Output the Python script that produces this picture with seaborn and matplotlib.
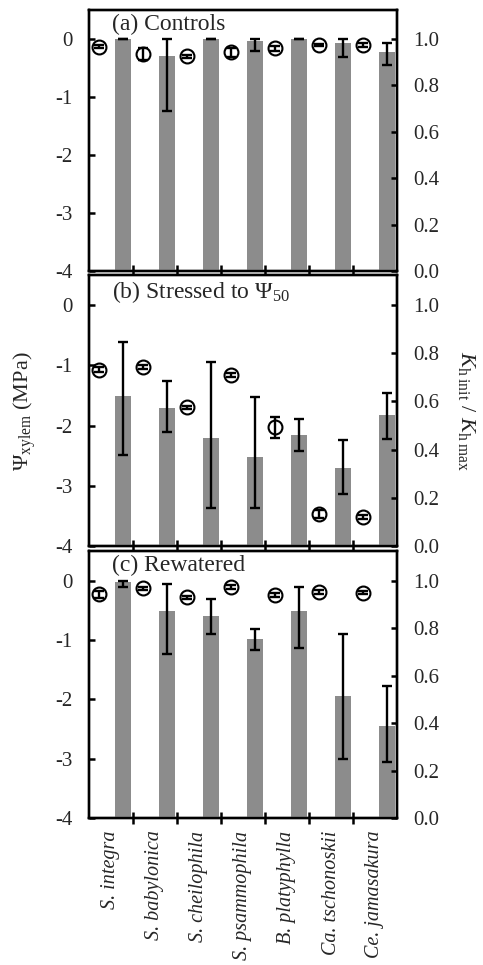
import numpy as np
import pandas as pd
import matplotlib
matplotlib.use("Agg")
import matplotlib.pyplot as plt
import seaborn as sns
from matplotlib.ticker import FixedLocator, NullFormatter, FixedFormatter

species = ["S. integra", "S. babylonica", "S. cheilophila", "S. psammophila",
           "B. platyphylla", "Ca. tschonoskii", "Ce. jamasakura"]
panel_titles = ["(a) Controls", "(b) Stressed to Ψ$_{50}$", "(c) Rewatered"]

# ---- (a) Controls ----
psi_a = [-0.13, -0.26, -0.30, -0.23, -0.16, -0.10, -0.10]
psi_err_a = [0.03, 0.10, 0.03, 0.08, 0.04, 0.02, 0.03]
kh_a = [1.0, 0.928, 1.0, 0.993, 1.0, 0.981, 0.943]
kh_lo_a = [1.0, 0.69, 1.0, 0.95, 1.0, 0.924, 0.888]
kh_hi_a = [1.0, 1.0, 1.0, 1.0, 1.0, 1.0, 0.981]

# ---- (b) Stressed to Psi50 ----
psi_b = [-1.07, -1.03, -1.70, -1.16, -2.03, -3.47, -3.52]
psi_err_b = [0.04, 0.03, 0.03, 0.03, 0.17, 0.06, 0.03]
kh_b = [0.622, 0.573, 0.448, 0.368, 0.462, 0.324, 0.543]
kh_lo_b = [0.378, 0.473, 0.159, 0.159, 0.396, 0.217, 0.445]
kh_hi_b = [0.845, 0.683, 0.762, 0.617, 0.529, 0.441, 0.634]

# ---- (c) Rewatered ----
psi_c = [-0.23, -0.13, -0.28, -0.11, -0.24, -0.19, -0.20]
psi_err_c = [0.06, 0.03, 0.03, 0.03, 0.03, 0.03, 0.03]
kh_c = [0.995, 0.873, 0.852, 0.753, 0.873, 0.516, 0.388]
kh_lo_c = [0.975, 0.692, 0.774, 0.706, 0.718, 0.247, 0.236]
kh_hi_c = [1.0, 0.986, 0.922, 0.795, 0.972, 0.774, 0.558]

panels = [
    (psi_a, psi_err_a, kh_a, kh_lo_a, kh_hi_a),
    (psi_b, psi_err_b, kh_b, kh_lo_b, kh_hi_b),
    (psi_c, psi_err_c, kh_c, kh_lo_c, kh_hi_c),
]

sns.set_style("ticks")
plt.rcParams["font.family"] = ["Liberation Serif", "DejaVu Serif"]
plt.rcParams["mathtext.fontset"] = "custom"
plt.rcParams["mathtext.rm"] = "Liberation Serif"
plt.rcParams["mathtext.it"] = "Liberation Serif:italic"
plt.rcParams["axes.unicode_minus"] = False
plt.rcParams["axes.axisbelow"] = False

W, H = 483, 965
fig = plt.figure(figsize=(W / 100, H / 100), dpi=100)
left_px, right_px = 89, 397
boxes = [(10, 271), (275, 546), (551, 818)]
gray = "#8c8c8c"
n = len(species)
idx = np.arange(n)

for p, ((psi, psi_err, kh, kh_lo, kh_hi), (top, bot)) in enumerate(zip(panels, boxes)):
    ax = fig.add_axes([left_px / W, 1 - bot / H, (right_px - left_px) / W, (bot - top) / H])
    ax2 = ax.twinx()
    df = pd.DataFrame({"cpos": idx - 0.28, "bpos": idx + 0.27, "psi": psi,
                       "psi_err": psi_err, "kh": kh, "lo": kh_lo, "hi": kh_hi})
    # bars (right axis)
    sns.barplot(data=df, x="bpos", y="kh", native_scale=True, width=0.36,
                color=gray, saturation=1, errorbar=None, linewidth=0, ax=ax2)
    kh_arr = np.array(kh)
    yerr = np.vstack([kh_arr - np.array(kh_lo), np.array(kh_hi) - kh_arr])
    ax2.errorbar(df["bpos"], kh_arr, yerr=yerr, fmt="none", ecolor="black",
                 elinewidth=1.7, capsize=3.8, capthick=1.7, zorder=5)
    # circles (left axis)
    sns.scatterplot(data=df, x="cpos", y="psi", s=100, facecolor="white",
                    edgecolor="black", linewidth=1.5, ax=ax, zorder=3)
    ax.errorbar(df["cpos"], df["psi"], yerr=df["psi_err"], fmt="none",
                ecolor="black", elinewidth=1.7, capsize=3.6, capthick=1.7, zorder=4)

    ax.set_xlim(-0.5, n - 0.5)
    ax.set_ylim(-4, 0.5)
    ax2.set_ylim(0, 1.125)
    ax.set_yticks([-4, -3, -2, -1, 0])
    ax.set_yticklabels(["-4", "-3", "-2", "-1", "0"])
    ax2.set_yticks([0, 0.2, 0.4, 0.6, 0.8, 1.0])
    ax2.set_yticklabels(["0.0", "0.2", "0.4", "0.6", "0.8", "1.0"])
    for a in (ax, ax2):
        a.set_xlabel("")
        a.set_ylabel("")
        a.set_axisbelow(False)

    # x axis drawn by the top (twin) axes: boundary tick marks + centred labels
    ax2.xaxis.set_visible(True)
    ax2.xaxis.set_major_locator(FixedLocator(list(idx[:-1] + 0.5)))
    ax2.xaxis.set_major_formatter(NullFormatter())
    ax2.xaxis.set_minor_locator(FixedLocator(list(idx)))
    if p == 2:
        ax2.xaxis.set_minor_formatter(FixedFormatter(species))
    else:
        ax2.xaxis.set_minor_formatter(NullFormatter())
    ax.tick_params(axis="x", which="both", length=0, labelbottom=False)
    ax2.tick_params(axis="x", which="minor", length=0, pad=9, bottom=True, top=False,
                    labelbottom=True, labeltop=False, labelsize=14.5, labelrotation=90)
    ax2.tick_params(axis="x", which="major", direction="inout", length=9, width=1.8,
                    top=False, bottom=True, color="black", labelbottom=False)
    for lab in ax2.xaxis.get_minorticklabels():
        lab.set_fontstyle("italic")
        lab.set_va("top")
        lab.set_ha("center")

    ax.tick_params(axis="y", direction="in", length=4.5, width=1.8, labelsize=15,
                   pad=12, right=False, color="black")
    ax2.tick_params(axis="y", direction="in", length=4.5, width=1.8, labelsize=15,
                    pad=12, color="black")
    for a in (ax, ax2):
        for s in a.spines.values():
            s.set_linewidth(1.7)
            s.set_color("black")
    ax.text(0.075, 0.985, panel_titles[p], transform=ax.transAxes, fontsize=17,
            va="top", ha="left")

fig.text(25 / W, 1 - 411 / H, "Ψ$_{\\mathrm{xylem}}$ (MPa)", rotation=90,
         ha="center", va="center", fontsize=16)
fig.text(467 / W, 1 - 411 / H, "$K_{\\mathrm{h\\ init}}$ / $K_{\\mathrm{h\\ max}}$",
         rotation=270, ha="center", va="center", fontsize=16)

fig.savefig("out.png", dpi=100)
